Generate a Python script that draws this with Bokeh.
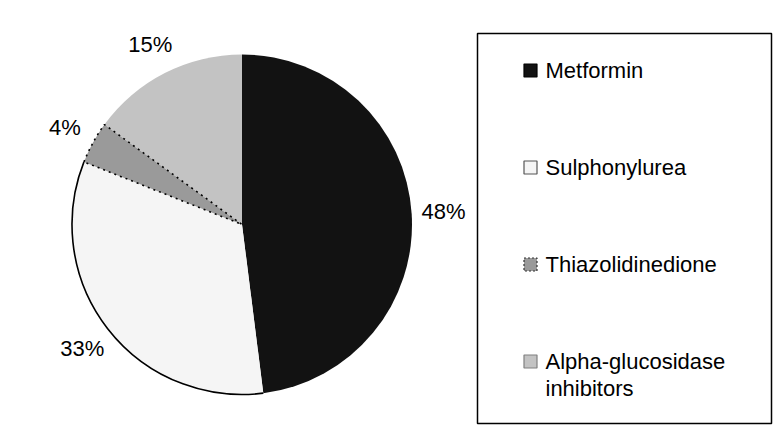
import math
from bokeh.plotting import figure
from bokeh.models import Range1d
from bokeh.core.properties import value
from bokeh.embed import file_html
from bokeh.resources import INLINE

# ---- data ----
categories = ["Metformin", "Sulphonylurea", "Thiazolidinedione", "Alpha-glucosidase\ninhibitors"]
shares = [48, 33, 4, 15]
pct_labels = ["48%", "33%", "4%", "15%"]
fills = ["#121212", "#f5f5f5", "#9a9a9a", "#c3c3c3"]

FONT = "Liberation Sans"
W, H = 774, 433
p = figure(width=W, height=H, output_backend="svg", toolbar_location=None,
           x_range=Range1d(0, W), y_range=Range1d(-H, 0),
           x_axis_location=None, y_axis_location=None, min_border=0,
           tools="")
p.grid.visible = False
p.outline_line_color = None
p.background_fill_color = "white"

cx, cy, r = 241.5, -224.0, 170.0
total = float(sum(shares))
starts, ends, mids = [], [], []
acc = 0.0
for s in shares:
    a0 = acc / total
    acc += s
    a1 = acc / total
    starts.append(a0)
    ends.append(a1)
    mids.append((a0 + a1) / 2)

def ang(frac):
    return math.pi / 2 - frac * 2 * math.pi

# slices: Metformin, Alpha (no outline), then Sulphonylurea, Thiazolidinedione
order = [0, 3, 1]
for i in order:
    p.wedge(x=cx, y=cy, radius=r, start_angle=ang(starts[i]), end_angle=ang(ends[i]),
            direction="clock", fill_color=fills[i], line_color=None)
# solid outer arc of Sulphonylurea
p.arc(x=cx, y=cy, radius=r, start_angle=ang(starts[1]), end_angle=ang(ends[1]),
      direction="clock", line_color="black", line_width=1.6)
# Thiazolidinedione with dotted outline
p.wedge(x=cx, y=cy, radius=r, start_angle=ang(starts[2]), end_angle=ang(ends[2]),
        direction="clock", fill_color=fills[2], line_color="black", line_width=1.6,
        line_dash="2 4")

# percentage labels outside the pie
R_lab = 202
lx = [cx + R_lab * math.sin(m * 2 * math.pi) for m in mids]
ly = [cy + R_lab * math.cos(m * 2 * math.pi) for m in mids]
p.text(x=lx, y=ly, text=pct_labels, text_align="center", text_baseline="middle",
       text_font=value(FONT), text_font_size="22px", text_color="black")

# legend
p.quad(left=477, right=771, top=-33, bottom=-423, fill_color=None,
       line_color="black", line_width=1.5)
y0, step = -70, -97
sq_line = ["#000000", "#555555", "#333333", "#808080"]
for i, lab in enumerate(categories):
    yc = y0 + i * step
    dash = "2 2" if i == 2 else "solid"
    p.rect(x=530, y=yc, width=13, height=13, fill_color=fills[i],
           line_color=sq_line[i], line_width=1.2, line_dash=dash)
    for k, line in enumerate(lab.split("\n")):
        p.text(x=[545], y=[yc - k * 27], text=[line], text_align="left",
               text_baseline="middle", text_font=value(FONT),
               text_font_size="22px", text_color="black")

open("out.html", "w").write(file_html(p, INLINE))
